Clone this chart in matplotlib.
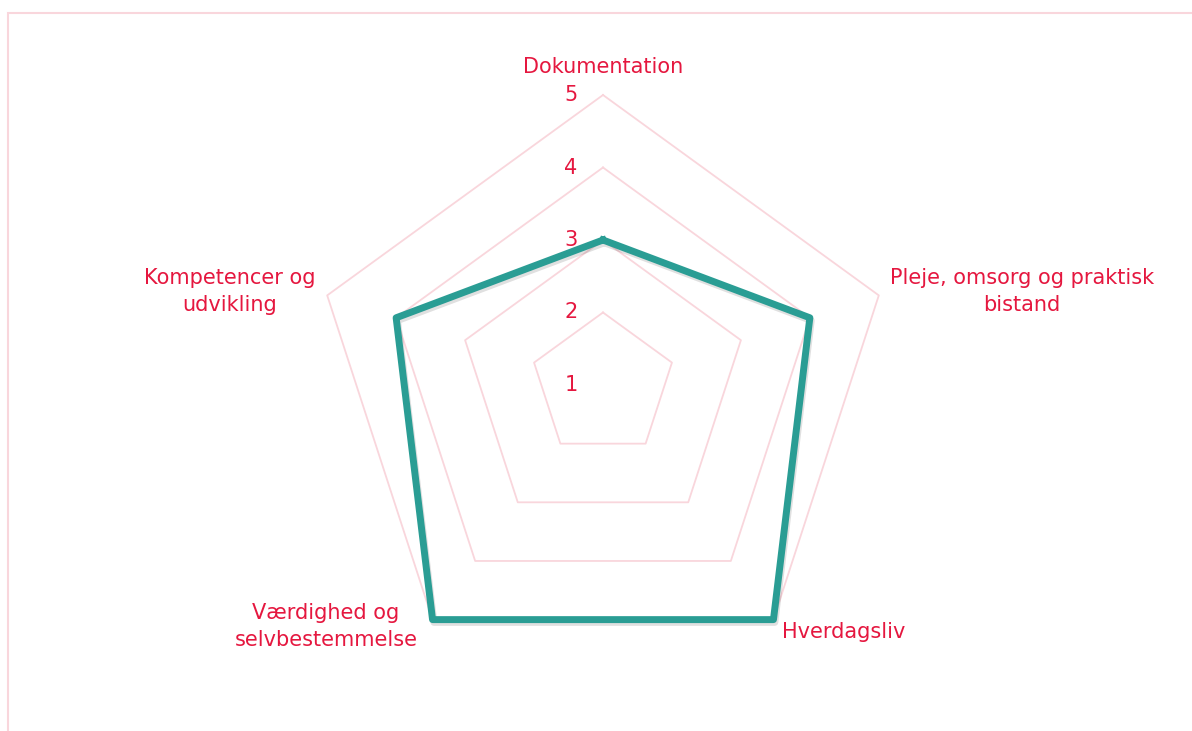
import numpy as np
import matplotlib
matplotlib.use("Agg")
import matplotlib.pyplot as plt
import matplotlib.patheffects as pe
from matplotlib.patches import Rectangle

# data
categories = ["Dokumentation", "Pleje, omsorg og praktisk\nbistand", "Hverdagsliv",
              "Værdighed og\nselvbestemmelse", "Kompetencer og\nudvikling"]
values = [3, 4, 5, 5, 4]
levels = [1, 2, 3, 4, 5]

text_col = "#E5173F"
grid_col = "#F9D6DC"
line_col = "#2A9D94"

plt.rcParams["font.family"] = ["DejaVu Sans"]

fig = plt.figure(figsize=(11.92, 7.31), dpi=100)
ax = fig.add_axes([313 / 1192, 56 / 731, 580 / 1192, 580 / 731], projection="polar")
ax.set_theta_offset(np.pi / 2)
ax.set_theta_direction(-1)
ax.set_ylim(1, 5)
ax.grid(False)
ax.spines["polar"].set_visible(False)
ax.set_xticks([])
ax.set_yticks([])
ax.patch.set_alpha(0)

n = len(categories)
angles = np.linspace(0, 2 * np.pi, n, endpoint=False)
ang_closed = np.append(angles, angles[0])

# pentagon grid
for lv in levels[1:]:
    ax.plot(ang_closed, [lv] * (n + 1), color=grid_col, lw=1.3, zorder=1,
            clip_on=False)

# data line
vals_closed = values + values[:1]
ax.plot(ang_closed, vals_closed, color=line_col, lw=5, zorder=3,
        solid_joinstyle="round", clip_on=False,
        path_effects=[pe.SimpleLineShadow(offset=(1, -2), alpha=0.12),
                      pe.Normal()])

# value labels
for lv in levels:
    ax.annotate(str(lv), xy=(0, lv), xytext=(-32, 0), textcoords="offset pixels",
                ha="center", va="center", color=text_col, fontsize=15)

# category labels
offsets = [(0, 28), (11, 4), (9, -12), (-15, -7), (-12, 4)]
aligns = ["center", "left", "left", "right", "right"]
for a, lab, off, ha in zip(angles, categories, offsets, aligns):
    ax.annotate(lab, xy=(a, 5), xytext=off, textcoords="offset pixels",
                ha=ha, va="center", multialignment="center", linespacing=1.45,
                color=text_col, fontsize=15, annotation_clip=False)

# outer frame (only top and left visible)
fig.patches.append(Rectangle((8 / 1192, -0.2), 1.2, 0.2 + (731 - 13) / 731,
                             transform=fig.transFigure, fill=False,
                             edgecolor=grid_col, lw=1.5))

fig.savefig("out.png", dpi=100)
